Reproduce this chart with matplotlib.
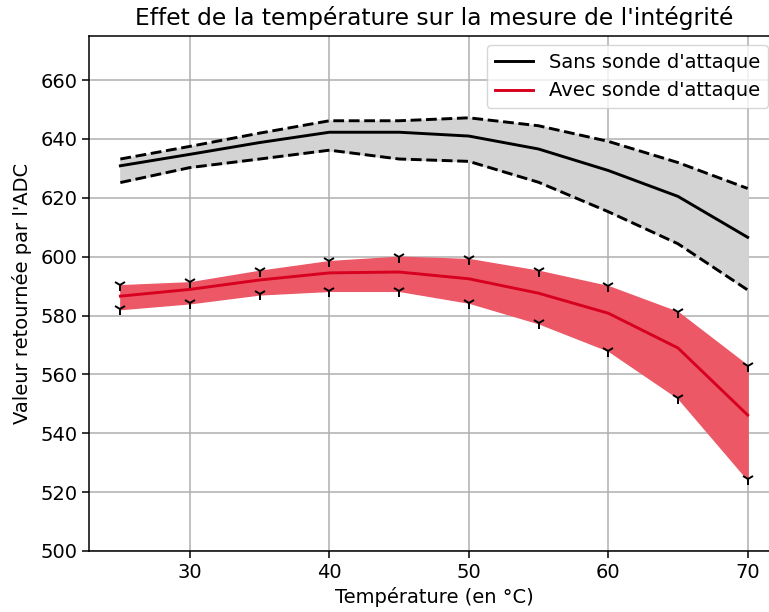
import numpy as np
import matplotlib.pyplot as plt

temperatures = [25, 30, 35, 40, 45, 50, 55, 60, 65, 70]

sans_moy = [630.9, 634.8, 638.8, 642.3, 642.3, 641.0, 636.6, 629.3, 620.5, 606.6]
sans_max = [633.2, 637.5, 642.0, 646.2, 646.2, 647.2, 644.5, 639.2, 632.0, 623.2]
sans_min = [625.2, 630.3, 633.2, 636.2, 633.2, 632.4, 625.3, 615.3, 604.4, 588.7]

avec_moy = [586.6, 588.9, 592.1, 594.5, 594.8, 592.5, 587.6, 580.8, 569.0, 546.2]
avec_max = [590.3, 591.3, 595.2, 598.5, 600.0, 599.2, 595.2, 590.0, 581.2, 563.0]
avec_min = [582.2, 584.2, 587.2, 588.4, 588.4, 584.4, 577.4, 568.1, 552.0, 524.3]

fig = plt.figure(figsize=(7.69, 6.12), dpi=100)
ax = fig.add_axes([89/769, 61/612, 690/769, 515/612])

ax.fill_between(temperatures, sans_min, sans_max, color='lightgray', zorder=2)
ax.plot(temperatures, sans_max, color='black', linestyle='--', linewidth=2.1, zorder=3)
ax.plot(temperatures, sans_min, color='black', linestyle='--', linewidth=2.1, zorder=3)
ax.plot(temperatures, sans_moy, color='black', linewidth=2.1, label="Sans sonde d'attaque", zorder=4)

ax.fill_between(temperatures, avec_min, avec_max, color='#ec5866', zorder=2)
for bord in (avec_max, avec_min):
    ax.plot(temperatures, bord, color='black', linestyle='none', marker='1',
            markersize=8.4, markeredgewidth=1.4, zorder=4)
ax.plot(temperatures, avec_moy, color='#d7001f', linewidth=2.1, label="Avec sonde d'attaque", zorder=4)

ax.set_ylim(500, 675)
ax.set_xticks([30, 40, 50, 60, 70])
ax.set_yticks(np.arange(500, 661, 20))
ax.tick_params(labelsize=14, width=1.1, length=4.9)
for s in ax.spines.values():
    s.set_linewidth(1.1)
ax.grid(True, color='#b0b0b0', linewidth=1.12, zorder=0)
ax.set_axisbelow(True)

ax.set_xlabel("Température (en °C)", fontsize=14)
ax.set_ylabel("Valeur retournée par l'ADC", fontsize=14, labelpad=6)
ax.set_title("Effet de la température sur la mesure de l'intégrité", fontsize=16.8, pad=8)
ax.legend(loc='upper right', fontsize=14, borderaxespad=0,
          bbox_to_anchor=(768/769, 567/612), bbox_transform=fig.transFigure)

fig.savefig("out.png", dpi=100)
